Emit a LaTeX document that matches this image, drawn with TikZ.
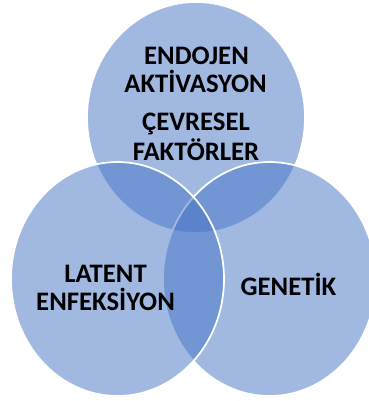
\documentclass[tikz,border=0pt]{standalone}
\usepackage{fontspec}
\setmainfont{Carlito}
\definecolor{accent}{HTML}{4472C4}
\tikzset{
  venn/.style={fill=accent, fill opacity=0.5, draw=white, line width=1.75bp},
  label/.style={anchor=base, inner sep=0pt, text=black,
    font=\fontsize{26.8}{30}\selectfont\bfseries}
}
\begin{document}
\begin{tikzpicture}[x=1bp, y=-1bp]
  \useasboundingbox (0,0) rectangle (369,401);
  % the three overlapping sets: top, right, left
  \path[venn] (196,117.5) ellipse [x radius=109, y radius=115.5];
  \path[venn] (269.5,279) ellipse [x radius=106.5, y radius=117];
  \path[venn] (117.5,279) ellipse [x radius=106.5, y radius=117];
  % labels
  \node[label] (endo1) at (196.5,64) {ENDOJEN};
  \node[label] (endo2) at (195.5,92) {AKTİVASYON};
  \node[label] (cevre1) at (196,130) {ÇEVRESEL};
  \node[label] (cevre2) at (196,160) {FAKTÖRLER};
  \node[label] (lat1) at (105.5,282) {LATENT};
  \node[label] (lat2) at (105.5,310) {ENFEKSİYON};
  \node[label] (gen) at (288.5,295) {GENETİK};
\end{tikzpicture}
\end{document}
